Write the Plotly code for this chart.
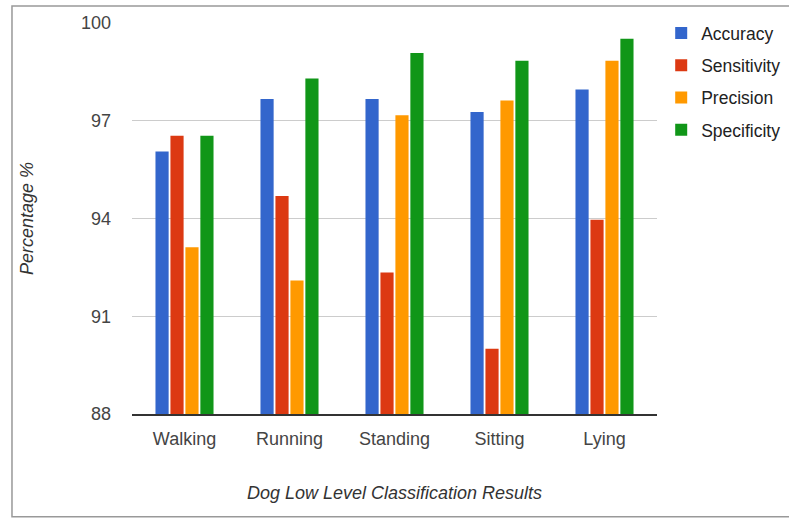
import plotly.graph_objects as go

# Activity classes and per-metric results (%)
activities = ["Walking", "Running", "Standing", "Sitting", "Lying"]
accuracy = [96.06, 97.67, 97.67, 97.27, 97.96]
sensitivity = [96.54, 94.69, 92.34, 90.0, 93.96]
precision = [93.12, 92.1, 97.17, 97.62, 98.84]
specificity = [96.54, 98.30, 99.08, 98.84, 99.52]

series = [
    ("Accuracy", accuracy, "#3366cc"),
    ("Sensitivity", sensitivity, "#dc3912"),
    ("Precision", precision, "#ff9900"),
    ("Specificity", specificity, "#109618"),
]
y_ticks = [88, 91, 94, 97, 100]

fig = go.Figure()
for name, vals, color in series:
    fig.add_trace(go.Bar(
        x=activities, y=vals, name=name, legendgroup=name,
        marker=dict(color=color, line=dict(width=0)),
    ))

font_family = "Arial, Liberation Sans, sans-serif"
title_font = dict(family=font_family, size=18, color="#333", style="italic")

fig.update_layout(
    width=789, height=519,
    margin=dict(l=132, r=132, t=23, b=105, autoexpand=False),
    paper_bgcolor="white", plot_bgcolor="white",
    barmode="group", bargap=0.43, bargroupgap=0.12,
    font=dict(family=font_family, size=18, color="#444"),
    showlegend=True,
    legend=dict(
        x=1.008, y=1.02, xanchor="left", yanchor="top",
        font=dict(size=17.5, color="#222"),
        tracegroupgap=6.5, traceorder="grouped",
        itemwidth=30, bgcolor="rgba(0,0,0,0)",
    ),
    xaxis=dict(
        showgrid=False, showline=True, linecolor="#333", linewidth=1.5,
        ticks="", ticklabelstandoff=8,
        tickfont=dict(size=18, color="#444"),
        title=dict(text="Dog Low Level Classification Results",
                   font=title_font, standoff=38),
    ),
    yaxis=dict(
        range=[88, 100], tickvals=y_ticks, showgrid=True,
        gridcolor="#cccccc", gridwidth=1, zeroline=False, showline=False,
        ticks="", ticklabelstandoff=20,
        tickfont=dict(size=18, color="#444"),
        title=dict(text="Percentage %", font=title_font, standoff=42),
    ),
    shapes=[dict(
        type="rect", xref="paper", yref="paper",
        x0=-0.2286, x1=1.26, y0=-0.263, y1=1.0435,
        line=dict(color="#999999", width=1.5), fillcolor="rgba(0,0,0,0)",
        layer="below",
    )],
)

fig.write_html("out.html")
